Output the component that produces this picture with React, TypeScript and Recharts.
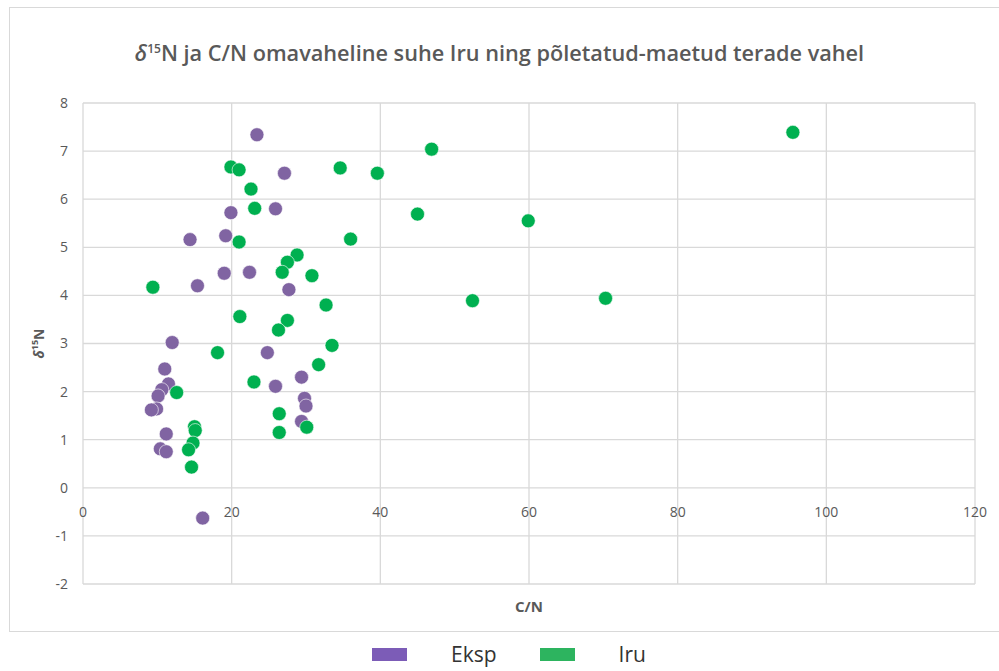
import React from "react";
import {
  CartesianGrid,
  Scatter,
  ScatterChart,
  XAxis,
  YAxis,
} from "recharts";

// Eksp (põletatud-maetud) series: C/N, δ15N
const ekspCN = [
  23.4, 27.1, 25.9, 19.9, 19.2, 14.4, 19.0, 22.4, 15.4, 27.7, 12.0, 24.8,
  11.0, 11.5, 10.6, 10.1, 9.9, 9.2, 11.2, 10.4, 11.2, 16.1, 25.9, 29.4, 29.8,
  30.0, 29.4,
];
const ekspN15 = [
  7.34, 6.54, 5.8, 5.72, 5.24, 5.16, 4.46, 4.48, 4.2, 4.12, 3.02, 2.81, 2.47,
  2.16, 2.04, 1.91, 1.64, 1.62, 1.12, 0.81, 0.75, -0.63, 2.11, 2.3, 1.86, 1.7,
  1.38,
];

// Iru series: C/N, δ15N
const iruCN = [
  19.9, 21.0, 34.6, 39.6, 22.6, 23.1, 21.0, 36.0, 28.8, 27.5, 26.8, 30.8, 9.4,
  32.7, 21.1, 27.5, 26.3, 33.5, 18.1, 31.7, 23.0, 12.6, 26.4, 26.4, 30.1,
  15.0, 15.1, 14.8, 14.2, 14.6, 46.9, 45.0, 59.9, 52.4, 70.3, 95.5,
];
const iruN15 = [
  6.67, 6.61, 6.65, 6.54, 6.21, 5.81, 5.11, 5.17, 4.84, 4.69, 4.48, 4.41,
  4.17, 3.8, 3.56, 3.48, 3.28, 2.96, 2.81, 2.56, 2.2, 1.98, 1.54, 1.15, 1.26,
  1.27, 1.19, 0.93, 0.79, 0.43, 7.04, 5.69, 5.55, 3.89, 3.94, 7.39,
];

const xTicks = [0, 20, 40, 60, 80, 100, 120];
const yTicks = [-2, -1, 0, 1, 2, 3, 4, 5, 6, 7, 8];

const ekspData = ekspCN.map((x, i) => ({ x, y: ekspN15[i] }));
const iruData = iruCN.map((x, i) => ({ x, y: iruN15[i] }));

const series = [
  { name: "Eksp", color: "#8064A2", swatch: "#7C5CB7" },
  { name: "Iru", color: "#00B050", swatch: "#2DB45F" },
];

const FONT = "'Open Sans', sans-serif";
const GRAY = "#595959";

// x labels sit right under the y=0 line, like in Excel
const ZERO_OFFSET = 96;

const XTick = (props: any) => {
  const { x, y, payload } = props;
  return (
    <text
      x={x}
      y={y - ZERO_OFFSET + 21}
      textAnchor='middle'
      fill={GRAY}
      fontSize={14}
      fontFamily={FONT}>
      {payload.value}
    </text>
  );
};

const YLabel = (props: any) => {
  const { viewBox } = props;
  const cx = 44;
  const cy = viewBox.y + viewBox.height / 2;
  return (
    <text
      x={cx}
      y={cy}
      transform={`rotate(-90 ${cx} ${cy})`}
      textAnchor='middle'
      fill={GRAY}
      fontSize={14}
      fontWeight={700}
      fontFamily={FONT}>
      <tspan fontStyle='italic'>δ</tspan>
      <tspan fontSize={9} dy={-6}>15</tspan>
      <tspan dy={6}>N</tspan>
    </text>
  );
};

const dot = (color: string) => (props: any) =>
  <circle cx={props.cx} cy={props.cy} r={7} fill={color} stroke='#fff' strokeWidth={0.6} />;

export default function App() {
  return (
    <div
      style={{
        position: "absolute",
        left: 0,
        top: 0,
        width: 999,
        height: 671,
        background: "#fff",
        overflow: "hidden",
      }}>
      <div
        style={{
          position: "absolute",
          left: 9,
          top: 7,
          width: 1000,
          height: 625,
          border: "1.5px solid #d9d9d9",
          boxSizing: "border-box",
        }}
      />
      <div
        style={{
          position: "absolute",
          top: 38,
          left: 0,
          width: 999,
          textAlign: "center",
          fontFamily: FONT,
          fontWeight: 600,
          fontSize: 21.7,
          color: GRAY,
        }}>
        <i style={{ fontStyle: "italic" }}>δ</i>
        <sup style={{ fontSize: 12 }}>15</sup>N ja C/N omavaheline suhe Iru ning
        põletatud-maetud terade vahel
      </div>
      <ScatterChart
        width={999}
        height={671}
        margin={{ top: 103, right: 24, bottom: 57, left: 23 }}
        style={{ position: "absolute", left: 0, top: 0 }}>
        <CartesianGrid stroke='#d9d9d9' strokeWidth={1.3} />
        <XAxis
          type='number'
          dataKey='x'
          domain={[0, 120]}
          ticks={xTicks}
          height={30}
          tickLine={false}
          axisLine={false}
          tick={<XTick />}
          label={{
            value: "C/N",
            position: "insideBottom",
            offset: 2,
            fill: GRAY,
            fontSize: 15,
            fontWeight: 700,
            fontFamily: FONT,
          }}
        />
        <YAxis
          type='number'
          dataKey='y'
          domain={[-2, 8]}
          ticks={yTicks}
          width={60}
          tickLine={false}
          axisLine={false}
          tickSize={0}
          tickMargin={15}
          tick={{ fill: GRAY, fontSize: 14, fontFamily: FONT }}
          label={<YLabel />}
        />
        <Scatter
          name='Eksp'
          data={ekspData}
          fill={series[0].color}
          shape={dot(series[0].color)}
          isAnimationActive={false}
        />
        <Scatter
          name='Iru'
          data={iruData}
          fill={series[1].color}
          shape={dot(series[1].color)}
          isAnimationActive={false}
        />
      </ScatterChart>
      <div
        style={{
          position: "absolute",
          top: 640,
          left: 372,
          display: "flex",
          alignItems: "center",
          fontFamily: FONT,
          fontSize: 21,
          color: "#333",
        }}>
        {series.map((s, i) => (
          <div
            key={s.name}
            style={{ display: "flex", alignItems: "center", marginLeft: i ? 43 : 0 }}>
            <div style={{ width: 35, height: 13, background: s.swatch }} />
            <span style={{ marginLeft: 44 }}>{s.name}</span>
          </div>
        ))}
      </div>
    </div>
  );
}
